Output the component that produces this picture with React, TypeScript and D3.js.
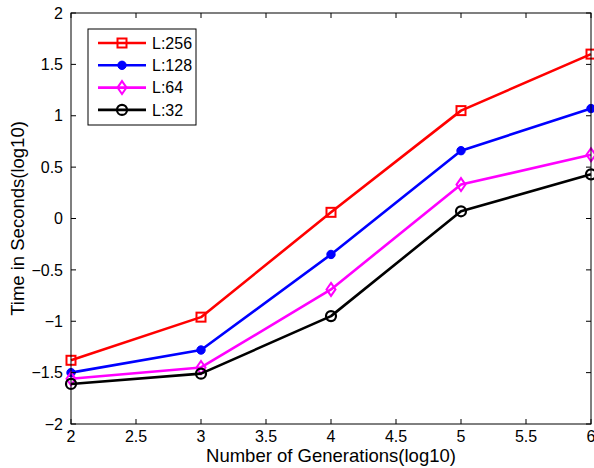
import React from "react";
import * as d3 from "d3";

const generations = [2, 3, 4, 5, 6];
const l256 = [-1.38, -0.96, 0.06, 1.05, 1.6];
const l128 = [-1.5, -1.28, -0.35, 0.66, 1.07];
const l64 = [-1.56, -1.45, -0.69, 0.33, 0.62];
const l32 = [-1.61, -1.51, -0.95, 0.07, 0.43];

const xTicks = [2, 2.5, 3, 3.5, 4, 4.5, 5, 5.5, 6];
const yTicks = [-2, -1.5, -1, -0.5, 0, 0.5, 1, 1.5, 2];

const series = [
  { name: "L:256", values: l256, color: "#ff0000", marker: "square" },
  { name: "L:128", values: l128, color: "#0000ff", marker: "dot" },
  { name: "L:64", values: l64, color: "#ff00ff", marker: "diamond" },
  { name: "L:32", values: l32, color: "#000000", marker: "circle" },
];

const W = 594;
const H = 468;
const left = 71;
const right = 591;
const top = 13;
const bottom = 424;

const fmt = (v: number) => (v < 0 ? "\u2212" + Math.abs(v) : String(v));

function Marker({ type, x, y, color }: { type: string; x: number; y: number; color: string }) {
  if (type === "square")
    return <rect x={x - 4.5} y={y - 4.5} width={9} height={9} fill="none" stroke={color} strokeWidth={2} />;
  if (type === "dot") return <circle cx={x} cy={y} r={4.2} fill={color} stroke={color} strokeWidth={1} />;
  if (type === "diamond")
    return (
      <path
        d={`M${x},${y - 6.5}L${x + 4.5},${y}L${x},${y + 6.5}L${x - 4.5},${y}Z`}
        fill="none"
        stroke={color}
        strokeWidth={2}
      />
    );
  return <circle cx={x} cy={y} r={5} fill="none" stroke={color} strokeWidth={2.2} />;
}

export default function App() {
  const x = d3.scaleLinear().domain([2, 6]).range([left, right]);
  const y = d3.scaleLinear().domain([-2, 2]).range([bottom, top]);
  const line = d3
    .line<number>()
    .x((_, i) => x(generations[i]))
    .y((d) => y(d));

  const font = "Helvetica, Arial, 'Liberation Sans', sans-serif";
  const tick = 5;

  return (
    <svg width={W} height={H} style={{ position: "absolute", left: 0, top: 0, background: "#fff" }} fontFamily={font}>
      <rect x={0} y={0} width={W} height={H} fill="#fff" />
      {series.map((s) => (
        <g key={s.name}>
          <path d={line(s.values) || ""} fill="none" stroke={s.color} strokeWidth={2.6} strokeLinejoin="round" />
          {s.values.map((v, i) => (
            <Marker key={i} type={s.marker} x={x(generations[i])} y={y(v)} color={s.color} />
          ))}
        </g>
      ))}
      <rect x={left} y={top} width={right - left} height={bottom - top} fill="none" stroke="#000" strokeWidth={1} />
      {xTicks.map((t) => (
        <g key={"x" + t}>
          <line x1={x(t)} x2={x(t)} y1={bottom} y2={bottom - tick} stroke="#000" />
          <line x1={x(t)} x2={x(t)} y1={top} y2={top + tick} stroke="#000" />
          <text x={x(t)} y={442} fontSize={16} textAnchor="middle">
            {fmt(t)}
          </text>
        </g>
      ))}
      {yTicks.map((t) => (
        <g key={"y" + t}>
          <line x1={left} x2={left + tick} y1={y(t)} y2={y(t)} stroke="#000" />
          <line x1={right} x2={right - tick} y1={y(t)} y2={y(t)} stroke="#000" />
          <text x={left - 8} y={y(t) + 5.7} fontSize={16} textAnchor="end">
            {fmt(t)}
          </text>
        </g>
      ))}
      <text x={(left + right) / 2} y={462} fontSize={18.5} textAnchor="middle">
        Number of Generations(log10)
      </text>
      <text transform={`translate(24,${(top + bottom) / 2}) rotate(-90)`} fontSize={18.5} textAnchor="middle">
        Time in Seconds(log10)
      </text>
      <g>
        <rect x={88} y={29} width={108} height={96} fill="#fff" stroke="#000" strokeWidth={1} />
        {series.map((s, i) => {
          const ly = 43 + i * 22.3;
          return (
            <g key={"lg" + s.name}>
              <line x1={98} x2={146} y1={ly} y2={ly} stroke={s.color} strokeWidth={2.6} />
              <Marker type={s.marker} x={122} y={ly} color={s.color} />
              <text x={152} y={ly + 5.8} fontSize={16}>
                {s.name}
              </text>
            </g>
          );
        })}
      </g>
    </svg>
  );
}
